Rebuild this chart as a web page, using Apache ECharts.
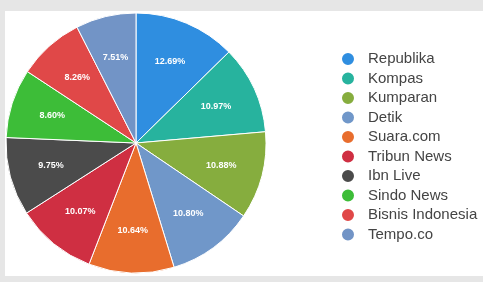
<!DOCTYPE html>
<html>
<head>
<meta charset="utf-8">
<script src="https://cdn.jsdelivr.net/npm/echarts@6/dist/echarts.min.js"></script>
<style>
    html, body { margin: 0; padding: 0; background: #e6e6e6; }
    #panel { position: absolute; left: 5px; top: 11px; width: 478px; height: 265px; background: #fff; }
    #chart { width: 478px; height: 265px; }
</style>
</head>
<body>
<div id="panel"><div id="chart"></div></div>
<script>
const sites = ['Republika', 'Kompas', 'Kumparan', 'Detik', 'Suara.com', 'Tribun News', 'Ibn Live', 'Sindo News', 'Bisnis Indonesia', 'Tempo.co'];
const shares = [12.69, 10.97, 10.88, 10.80, 10.64, 10.07, 9.75, 8.60, 8.26, 7.51];
const colors = ['#2f8ee0', '#27b39e', '#86ad3e', '#7097c9', '#e86d2d', '#cf2f42', '#4b4b4b', '#3dbd38', '#e04848', '#7294c6'];

document.addEventListener('DOMContentLoaded', function () {
    const myChart = echarts.init(document.getElementById('chart'));
    const pieData = sites.map((name, i) => ({ name: name, value: shares[i] }));

    const option = {
        animation: false,
        color: colors,
        legend: {
            orient: 'vertical',
            left: 330,
            top: 35,
            icon: 'circle',
            itemWidth: 14,
            itemHeight: 14,
            itemGap: 3.5,
            textStyle: { fontFamily: 'Liberation Sans, Arial, sans-serif', fontSize: 15, color: '#444', padding: [0, 0, 0, 8] },
            data: sites
        },
        series: [
            {
                type: 'pie',
                center: [131, 132],
                radius: [0, 130],
                startAngle: 90,
                clockwise: true,
                silent: true,
                itemStyle: { borderColor: '#fff', borderWidth: 1 },
                label: { show: false },
                labelLine: { show: false },
                data: pieData
            },
            {
                // label layer: wider invisible ring so labels sit ~0.65 r out
                type: 'pie',
                center: [131, 132],
                radius: [0, 170],
                startAngle: 90,
                clockwise: true,
                silent: true,
                itemStyle: { color: 'rgba(0,0,0,0)' },
                label: {
                    show: true,
                    position: 'inside',
                    formatter: p => p.value.toFixed(2) + '%',
                    color: '#fff',
                    fontFamily: 'Liberation Sans, Arial, sans-serif',
                    fontSize: 9,
                    fontWeight: 'bold'
                },
                labelLine: { show: false },
                data: pieData
            }
        ]
    };

    myChart.setOption(option);
});
</script>
</body>
</html>
